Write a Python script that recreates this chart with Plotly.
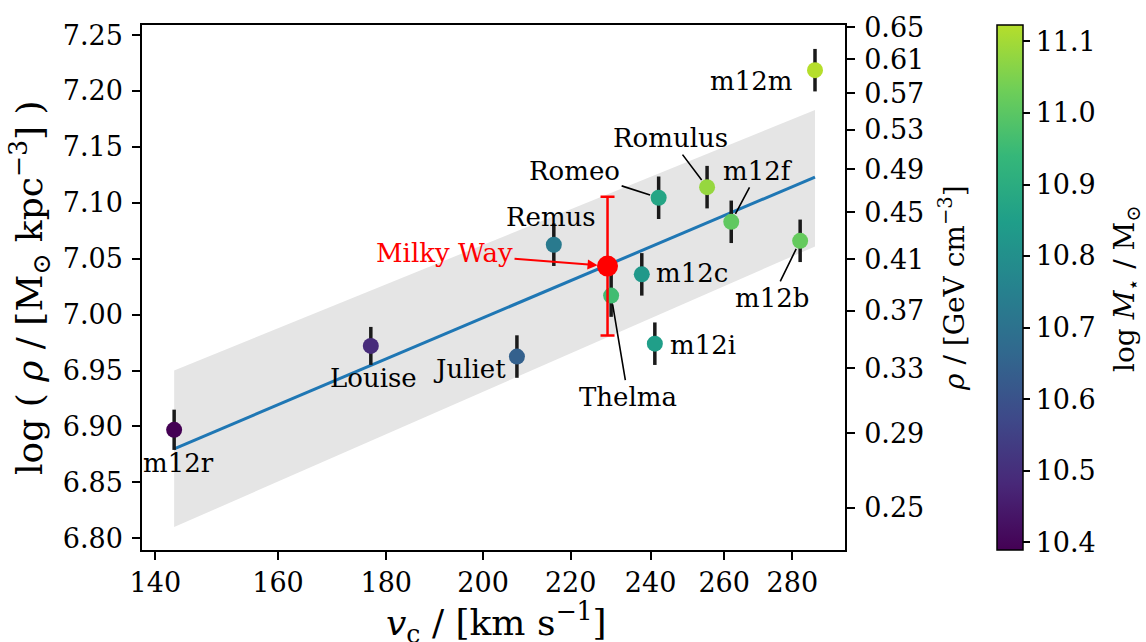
import numpy as np
import plotly.graph_objects as go
import plotly.colors as pc

# ---------------- data ----------------
names = ["m12r", "Louise", "Juliet", "Remus", "Thelma", "m12c",
         "m12i", "Romeo", "Romulus", "m12f", "m12b", "m12m"]
v_c = [142.9, 177.0, 207.5, 216.0, 229.9, 237.7, 241.1, 242.1, 255.2, 262.0, 282.4, 287.0]
log_rho = [6.897, 6.972, 6.9625, 7.0625, 7.017, 7.036, 6.974, 7.1045, 7.114, 7.083, 7.066, 7.2186]
log_rho_err = [0.018, 0.017, 0.019, 0.019, 0.019, 0.019, 0.019, 0.019, 0.019, 0.019, 0.019, 0.019]
log_mstar = [10.389, 10.49, 10.645, 10.727, 10.959, 10.827, 10.85, 10.872, 11.083, 11.008, 11.016, 11.123]

mw_v = [229.0]
mw_log_rho = [7.0434]
mw_err = [0.062]

fit_v = [142.9, 287.0]
fit_log_rho = [6.880, 7.123]
band_lo = [6.810, 7.061]
band_hi = [6.950, 7.183]

x_ticks = [140, 160, 180, 200, 220, 240, 260, 280]
y_ticks = [6.80, 6.85, 6.90, 6.95, 7.00, 7.05, 7.10, 7.15, 7.20, 7.25]
rho_gev_ticks = [0.25, 0.29, 0.33, 0.37, 0.41, 0.45, 0.49, 0.53, 0.57, 0.61, 0.65]
cbar_ticks = [10.4, 10.5, 10.6, 10.7, 10.8, 10.9, 11.0, 11.1]

# ---------------- styling / layout helpers ----------------
FONT = "DejaVu Serif"
W, H = 1146, 642
L, R, T, B = 142, 301, 17, 92
PW, PH = W - L - R, H - T - B

def px_x(p):
    return (p - L) / PW

def px_y(p):
    return (H - B - p) / PH

# label offsets in screen pixels (dx right, dy down); arrow flag
label_style = {
    "m12r": (4, 33, False),
    "Louise": (3, 32, False),
    "Juliet": (-47, 12, False),
    "Remus": (-3, -28, False),
    "m12c": (50, -1, False),
    "m12i": (48, 1, False),
    "m12m": (-64, 11, False),
    "Romeo": (-84, -27, True),
    "Romulus": (-37, -49, True),
    "m12f": (27, -51, True),
    "m12b": (-28, 57, True),
    "Thelma": (17, 101, True),
}

viridis_trunc = pc.sequential.Viridis[:9]
cscale = [[i / (len(viridis_trunc) - 1), c] for i, c in enumerate(viridis_trunc)]

fig = go.Figure()

# scatter band
fig.add_trace(go.Scatter(
    x=[fit_v[0], fit_v[1], fit_v[1], fit_v[0], fit_v[0]],
    y=[band_lo[0], band_lo[1], band_hi[1], band_hi[0], band_lo[0]],
    fill="toself", fillcolor="#e5e5e5", mode="lines",
    line=dict(width=0, color="rgba(0,0,0,0)"), hoverinfo="skip", showlegend=False))

# fit line
fig.add_trace(go.Scatter(
    x=fit_v, y=fit_log_rho, mode="lines",
    line=dict(color="#1f77b4", width=3), hoverinfo="skip", showlegend=False))

# simulations
fig.add_trace(go.Scatter(
    x=v_c, y=log_rho, mode="markers", text=names, showlegend=False,
    error_y=dict(type="data", array=log_rho_err, color="#1a1a1a", thickness=3.5, width=0),
    marker=dict(size=16, color=log_mstar, colorscale=cscale,
                cmin=min(log_mstar), cmax=max(log_mstar),
                line=dict(width=0),
                colorbar=dict(
                    x=px_x(997), xanchor="left", xpad=0,
                    y=0.5, yanchor="middle", ypad=0,
                    len=1, lenmode="fraction", thickness=26,
                    outlinewidth=1.5, outlinecolor="black",
                    ticks="outside", ticklen=7, tickwidth=1.5, tickcolor="black",
                    tickvals=cbar_ticks, ticktext=[f"{t:.1f}" for t in cbar_ticks],
                    tickfont=dict(family=FONT, size=27, color="black"),
                ))))

# Milky Way
fig.add_trace(go.Scatter(
    x=mw_v, y=mw_log_rho, mode="markers", showlegend=False,
    error_y=dict(type="data", array=mw_err, color="red", thickness=2.5, width=7),
    marker=dict(size=21, color="red", line=dict(width=0))))

# invisible trace for the right axis
fig.add_trace(go.Scatter(
    x=[v_c[0]], y=[rho_gev_ticks[4]], yaxis="y2", mode="markers",
    marker=dict(opacity=0), hoverinfo="skip", showlegend=False))

annotations = []
for n, v, r in zip(names, v_c, log_rho):
    dx, dy, arrow = label_style[n]
    if arrow:
        annotations.append(dict(
            x=np.log10(v), y=r, xref="x", yref="y", text=n,
            showarrow=True, ax=dx, ay=dy, arrowhead=0, arrowwidth=1.6,
            arrowcolor="black", standoff=9,
            font=dict(family=FONT, size=26, color="black")))
    else:
        annotations.append(dict(
            x=np.log10(v), y=r, xref="x", yref="y", text=n,
            showarrow=False, xshift=dx, yshift=-dy,
            font=dict(family=FONT, size=26, color="black")))

annotations.append(dict(
    x=np.log10(mw_v[0]), y=mw_log_rho[0], xref="x", yref="y", text="Milky Way",
    showarrow=True, ax=-163, ay=-13, arrowhead=2, arrowsize=1, arrowwidth=2,
    arrowcolor="red", standoff=10,
    font=dict(family=FONT, size=26, color="red")))

# axis titles
annotations += [
    dict(x=px_x(30), y=px_y(284), xref="paper", yref="paper", textangle=-90,
         text="log ( <i>ρ</i> / [M<sub>⊙</sub> kpc<sup>−3</sup>] )",
         showarrow=False, xanchor="center", yanchor="middle",
         font=dict(family=FONT, size=36, color="black")),
    dict(x=px_x(496), y=px_y(624), xref="paper", yref="paper",
         text="<i>v</i><sub>c</sub> / [km s<sup>−1</sup>]",
         showarrow=False, xanchor="center", yanchor="middle",
         font=dict(family=FONT, size=36, color="black")),
    dict(x=px_x(953), y=px_y(284), xref="paper", yref="paper", textangle=-90,
         text="<i>ρ</i> / [GeV cm<sup>−3</sup>]",
         showarrow=False, xanchor="center", yanchor="middle",
         font=dict(family=FONT, size=28, color="black")),
    dict(x=px_x(1127), y=px_y(285), xref="paper", yref="paper", textangle=-90,
         text="log <i>M</i><sub>⋆</sub> / M<sub>⊙</sub>",
         showarrow=False, xanchor="center", yanchor="middle",
         font=dict(family=FONT, size=28, color="black")),
]

axis_common = dict(showgrid=False, zeroline=False, ticks="outside", ticklen=8,
                   tickwidth=1.5, tickcolor="black", linecolor="black", linewidth=1.5,
                   tickfont=dict(family=FONT, size=27, color="black"))

fig.update_layout(
    width=W, height=H,
    margin=dict(l=L, r=R, t=T, b=B, pad=0),
    paper_bgcolor="white", plot_bgcolor="white",
    font=dict(family=FONT, color="black"),
    showlegend=False,
    xaxis=dict(type="log", range=[2.13984, 2.47206],
               tickvals=x_ticks, ticktext=[str(t) for t in x_ticks],
               showline=True, mirror=True, **axis_common),
    yaxis=dict(range=[6.7895, 7.2590], tickvals=y_ticks,
               ticktext=[f"{t:.2f}" for t in y_ticks],
               showline=True, mirror=True, ticklabelstandoff=4, **axis_common),
    yaxis2=dict(overlaying="y", side="right", type="log",
                range=[-0.6384, -0.1851], tickvals=rho_gev_ticks,
                ticktext=[f"{t:.2f}" for t in rho_gev_ticks],
                showline=True, ticklabelstandoff=4, **axis_common),
    annotations=annotations,
)

fig.write_html("out.html", config={"displayModeBar": False},
               post_script="document.body.style.margin='0px';document.body.style.overflow='hidden';")
